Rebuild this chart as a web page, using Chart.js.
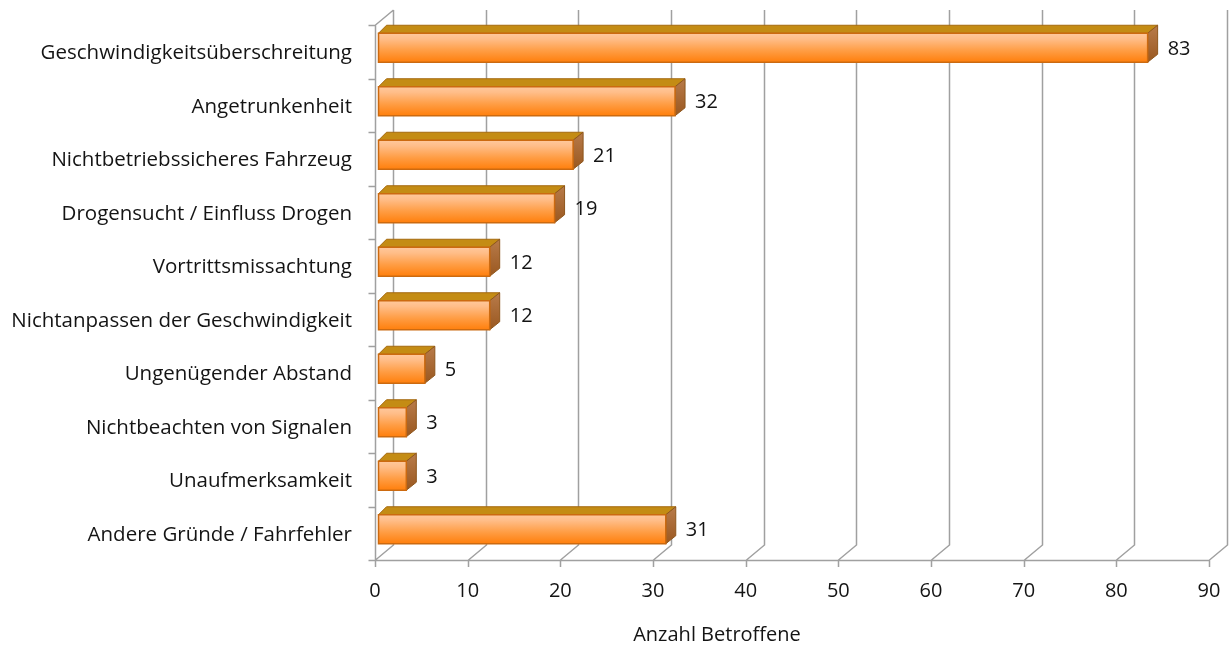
<!DOCTYPE html>
<html>
<head>
<meta charset="utf-8">
<script src="https://cdn.jsdelivr.net/npm/chart.js@4.4.1/dist/chart.umd.min.js"></script>
<style>
  html, body { margin: 0; padding: 0; background: #fff; }
  #wrap { width: 1231px; height: 648px; position: relative; }
</style>
</head>
<body>
<div id="wrap"><canvas id="chart"></canvas></div>
<script>
// Data
const categories = [
  'Geschwindigkeitsüberschreitung',
  'Angetrunkenheit',
  'Nichtbetriebssicheres Fahrzeug',
  'Drogensucht / Einfluss Drogen',
  'Vortrittsmissachtung',
  'Nichtanpassen der Geschwindigkeit',
  'Ungenügender Abstand',
  'Nichtbeachten von Signalen',
  'Unaufmerksamkeit',
  'Andere Gründe / Fahrfehler'
];
const betroffene = [83, 32, 21, 19, 12, 12, 5, 3, 3, 31];
const xTickValues = [0, 10, 20, 30, 40, 50, 60, 70, 80, 90];
const xAxisTitle = 'Anzahl Betroffene';

const FONT = '"Open Sans", "Noto Sans", sans-serif';
const TEXT = '#141414';
const GRID = '#a0a0a0';

// 3D look
const wall = { dx: 18, dy: 15 };     // back wall offset for grid lines
const barShift = { x: 3.5, y: -4 };   // front face shift from scale position
const barDepth = { dxL: 8, dxR: 10, dy: 8 };

// grid + axes drawn in perspective behind the bars
const gridPlugin = {
  id: 'grid3d',
  beforeDatasetsDraw(chart) {
    const { ctx, chartArea: a, scales: { x } } = chart;
    ctx.save();
    ctx.strokeStyle = GRID;
    ctx.lineWidth = 1.5;
    ctx.beginPath();
    xTickValues.forEach(v => {
      const px = Math.round(x.getPixelForValue(v)) + 0.5;
      ctx.moveTo(px, a.bottom + 7);
      ctx.lineTo(px, a.bottom);
      ctx.lineTo(px + wall.dx, a.bottom - wall.dy);
      ctx.lineTo(px + wall.dx, a.top - wall.dy);
    });
    // front floor line
    ctx.moveTo(a.left, a.bottom + 0.5);
    ctx.lineTo(a.right, a.bottom + 0.5);
    // left axis
    const lx = Math.round(a.left) + 0.5;
    ctx.moveTo(lx, a.bottom);
    ctx.lineTo(lx, a.top);
    ctx.lineTo(lx + wall.dx, a.top - wall.dy);
    const n = categories.length;
    for (let i = 0; i <= n; i++) {
      const y = Math.round(a.top + i * (a.bottom - a.top) / n) + 0.5;
      ctx.moveTo(lx - 7, y);
      ctx.lineTo(lx, y);
    }
    ctx.stroke();
    ctx.restore();
  }
};

const bars3dPlugin = {
  id: 'bars3d',
  afterDatasetsDraw(chart) {
    const { ctx } = chart;
    const meta = chart.getDatasetMeta(0);
    ctx.save();
    meta.data.forEach((bar, i) => {
      const h = bar.height;
      const L = bar.base + barShift.x;
      const R = bar.x + barShift.x;
      const T = bar.y + barShift.y - h / 2;
      const B = bar.y + barShift.y + h / 2;
      const d = barDepth;

      // top face
      ctx.beginPath();
      ctx.moveTo(L, T);
      ctx.lineTo(L + d.dxL, T - d.dy);
      ctx.lineTo(R + d.dxR, T - d.dy);
      ctx.lineTo(R, T);
      ctx.closePath();
      ctx.fillStyle = '#c48c14';
      ctx.fill();
      ctx.strokeStyle = '#a5690e';
      ctx.lineWidth = 1;
      ctx.stroke();

      // side face
      const sg = ctx.createLinearGradient(0, T - d.dy, 0, B);
      sg.addColorStop(0, '#b87b4a');
      sg.addColorStop(1, '#9a5820');
      ctx.beginPath();
      ctx.moveTo(R, T);
      ctx.lineTo(R + d.dxR, T - d.dy);
      ctx.lineTo(R + d.dxR, B - d.dy);
      ctx.lineTo(R, B);
      ctx.closePath();
      ctx.fillStyle = sg;
      ctx.fill();
      ctx.strokeStyle = '#8e561c';
      ctx.stroke();

      // front face
      const fg = ctx.createLinearGradient(0, T, 0, B);
      fg.addColorStop(0, '#ffc89c');
      fg.addColorStop(0.2, '#ffbd88');
      fg.addColorStop(0.6, '#ff9d44');
      fg.addColorStop(1, '#ff7f0c');
      ctx.fillStyle = fg;
      ctx.fillRect(L, T, R - L, B - T);
      ctx.strokeStyle = '#cc6a10';
      ctx.lineWidth = 1.5;
      ctx.strokeRect(L, T, R - L, B - T);

      // value label
      ctx.fillStyle = TEXT;
      ctx.font = '20px ' + FONT;
      ctx.textAlign = 'left';
      ctx.textBaseline = 'middle';
      ctx.fillText(String(betroffene[i]), R + d.dxR + 10, (T + B) / 2 + 1.5);
    });

    // axis title
    ctx.fillStyle = TEXT;
    ctx.font = '20px ' + FONT;
    ctx.textAlign = 'center';
    ctx.textBaseline = 'middle';
    ctx.fillText(xAxisTitle, 717, 635);
    ctx.restore();
  }
};

new Chart(document.getElementById('chart'), {
  type: 'bar',
  data: {
    labels: categories,
    datasets: [{
      data: betroffene,
      backgroundColor: 'rgba(0,0,0,0)',
      borderWidth: 0,
      barThickness: 29
    }]
  },
  options: {
    indexAxis: 'y',
    responsive: true,
    maintainAspectRatio: false,
    animation: false,
    layout: { padding: { top: 25, right: 22, left: 0, bottom: 0 } },
    plugins: {
      legend: { display: false },
      tooltip: { enabled: false }
    },
    scales: {
      x: {
        min: 0,
        max: 90,
        grid: { display: false, drawTicks: false },
        border: { display: false },
        ticks: {
          stepSize: 10,
          color: TEXT,
          font: { family: FONT, size: 20 },
          padding: 19,
          maxRotation: 0
        },
        afterFit: s => {
          s.height = 88;
          s.paddingLeft = 0;
          s.paddingRight = 0;
        }
      },
      y: {
        grid: { display: false, drawTicks: false },
        border: { display: false },
        ticks: {
          color: TEXT,
          font: { family: FONT, size: 20.5 },
          padding: 23,
          labelOffset: 1.5
        },
        afterFit: s => {
          s.width = 375;
          s.paddingTop = 0;
          s.paddingBottom = 0;
        }
      }
    }
  },
  plugins: [gridPlugin, bars3dPlugin]
});
</script>
</body>
</html>
